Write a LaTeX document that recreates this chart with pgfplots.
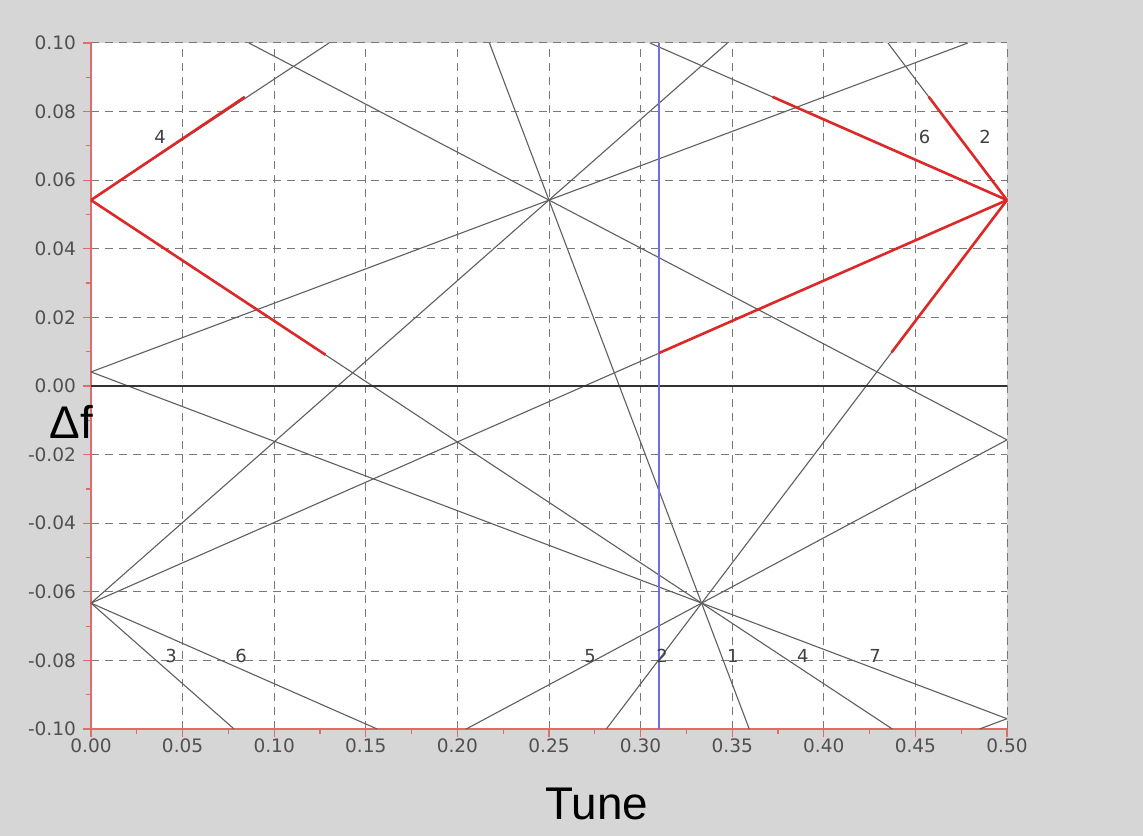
\documentclass[border=0pt]{standalone}
\usepackage{fontspec}
\setmainfont{Liberation Sans}
\newfontfamily\tickfont{DejaVu Sans}
\usepackage{pgfplots}
\pgfplotsset{compat=1.18}
\definecolor{bgc}{RGB}{214,214,214}
\definecolor{gridc}{RGB}{120,120,120}
\definecolor{linec}{RGB}{95,95,95}
\definecolor{redc}{RGB}{222,40,40}
\definecolor{axred}{RGB}{228,105,105}
\definecolor{bluec}{RGB}{110,110,230}
\definecolor{tickc}{RGB}{80,80,80}
\begin{document}
\begin{tikzpicture}
\fill[bgc] (-45.5bp,-53.5bp) rectangle (526bp,364.5bp);
\begin{axis}[
  scale only axis, width=458bp, height=343bp,
  xmin=0, xmax=0.5, ymin=-0.1, ymax=0.1,
  axis background/.style={fill=white},
  axis x line*=bottom, axis y line*=left,
  x axis line style={-,draw=axred,line width=0.8bp},
  y axis line style={-,draw=axred,line width=0.8bp},
  xtick={0,0.05,...,0.5}, ytick={-0.1,-0.08,...,0.1},
  minor tick num=1,
  tick align=outside,
  major tick length=4bp, minor tick length=2.5bp,
  every tick/.style={draw=axred,line width=0.6bp},
  grid=major,
  major grid style={draw=gridc,line width=0.5bp,dash pattern=on 4bp off 3bp},
  /pgf/number format/assume math mode=true,
  xticklabel style={yshift=2.5bp,/pgf/number format/.cd,fixed,fixed zerofill,precision=2},
  yticklabel style={/pgf/number format/.cd,fixed,fixed zerofill,precision=2},
  tick label style={font=\tickfont\fontsize{9.3}{10}\selectfont, text=tickc},
  clip=false,
  lg/.style={draw=linec, line width=0.55bp, no marks},
  lr/.style={draw=redc, line width=1.3bp, no marks},
]
% gray resonance lines
\addplot[lg] coordinates {(0,0.0542) (0.1299,0.1)};
\addplot[lg] coordinates {(0,0.0542) (0.4374,-0.1)};
\addplot[lg] coordinates {(0.2813,-0.1) (0.5,0.0542)};
\addplot[lg] coordinates {(0.4350,0.1) (0.5,0.0542)};
\addplot[lg] coordinates {(0,-0.0633) (0.5,0.0542)};
\addplot[lg] coordinates {(0.3051,0.1) (0.5,0.0542)};
\addplot[lg] coordinates {(0,-0.0633) (0.3474,0.1)};
\addplot[lg] coordinates {(0,-0.0633) (0.0781,-0.1)};
\addplot[lg] coordinates {(0,-0.0633) (0.1562,-0.1)};
\addplot[lg] coordinates {(0,0.0041) (0.4786,0.1)};
\addplot[lg] coordinates {(0,0.0041) (0.5,-0.0970)};
\addplot[lg] coordinates {(0.5,-0.0970) (0.4850,-0.1)};
\addplot[lg] coordinates {(0.2048,-0.1) (0.5,-0.0157)};
\addplot[lg] coordinates {(0.0862,0.1) (0.5,-0.0157)};
\addplot[lg] coordinates {(0.2175,0.1) (0.3593,-0.1)};
% zero line
\addplot[draw=black!80, line width=0.7bp, no marks] coordinates {(0,0) (0.5,0)};
% tune line
\addplot[draw=bluec, line width=0.6bp, no marks] coordinates {(0.31,-0.1) (0.31,0.1)};
% red segments
\addplot[lr] coordinates {(0,0.0542) (0.084,0.0843)};
\addplot[lr] coordinates {(0,0.0542) (0.128,0.0091)};
\addplot[lr] coordinates {(0.5,0.0542) (0.372,0.0843)};
\addplot[lr] coordinates {(0.5,0.0542) (0.31,0.0096)};
\addplot[lr] coordinates {(0.5,0.0542) (0.4573,0.0843)};
\addplot[lr] coordinates {(0.5,0.0542) (0.437,0.0098)};
% order labels
\tikzset{ol/.style={font=\tickfont\fontsize{9}{10}\selectfont, text=black!75, inner sep=0pt}}
\node[ol] at (axis cs:0.0377,0.0726) {4};
\node[ol] at (axis cs:0.455,0.0726) {6};
\node[ol] at (axis cs:0.488,0.0726) {2};
\node[ol] at (axis cs:0.0437,-0.0787) {3};
\node[ol] at (axis cs:0.0819,-0.0787) {6};
\node[ol] at (axis cs:0.2724,-0.0787) {5};
\node[ol] at (axis cs:0.3117,-0.0787) {2};
\node[ol] at (axis cs:0.3504,-0.0787) {1};
\node[ol] at (axis cs:0.3886,-0.0787) {4};
\node[ol] at (axis cs:0.428,-0.0787) {7};
% axis labels
\node[anchor=base, inner sep=0pt, font=\fontsize{23}{26}\selectfont] at (axis cs:-0.0106,-0.0152) {Δf};
\node[anchor=base, inner sep=0pt, font=\fontsize{23}{26}\selectfont] at (axis cs:0.276,-0.1265) {Tune};
\end{axis}
\pgfresetboundingbox
\path (-45.5bp,-53.5bp) rectangle (526bp,364.5bp);
\end{tikzpicture}
\end{document}
